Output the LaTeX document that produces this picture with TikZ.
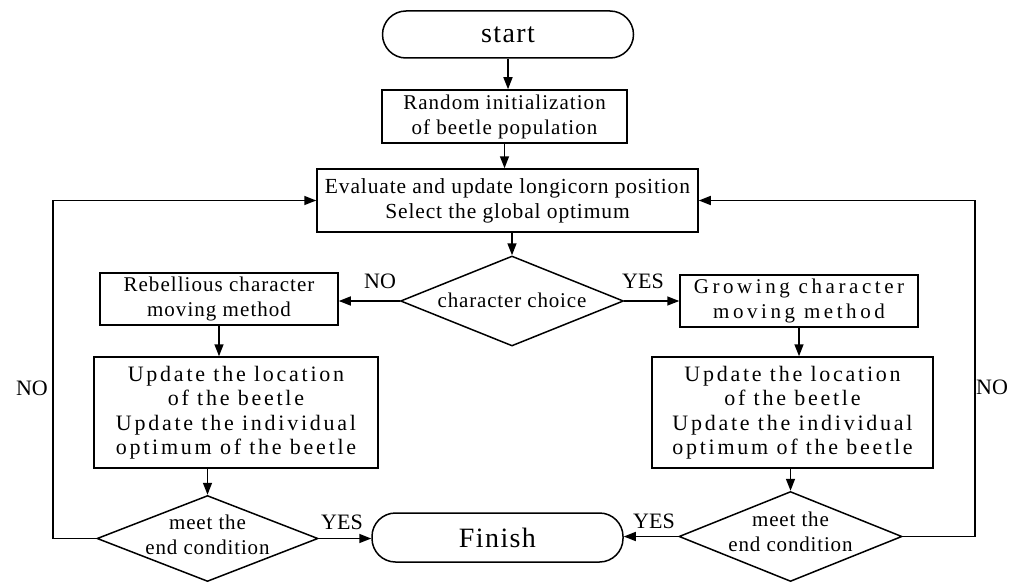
\documentclass[tikz,border=0pt]{standalone}
\usepackage{fontspec}
\setmainfont{Liberation Serif}
\newfontfamily\fN{Liberation Serif}
\newfontfamily\fA{Liberation Serif}[LetterSpace=5]
\newfontfamily\fE{Liberation Serif}[LetterSpace=4]
\newfontfamily\fG{Liberation Serif}[LetterSpace=17]
\newfontfamily\fU{Liberation Serif}[LetterSpace=12.5]
\usetikzlibrary{shapes.geometric,arrows.meta}
\begin{document}
\begin{tikzpicture}[x=1pt,y=-1pt,line width=1.5pt,
  >={Triangle[length=12pt,width=9pt]},
  box/.style={draw,rectangle,inner sep=0pt,align=center},
  term/.style={draw,rectangle,rounded corners=23.5pt,inner sep=0pt,
    font={\fA\fontsize{28}{30}\selectfont}},
  dia/.style={draw,diamond,inner sep=0pt},
  smalltxt/.style={font={\fA\fontsize{21}{25}\selectfont}},
  dtxt/.style={inner sep=0pt,align=center,font={\fE\fontsize{21}{25}\selectfont}},
  uptxt/.style={font={\fU\fontsize{22}{24.5}\selectfont}},
  lbl/.style={inner sep=0pt,font={\fN\fontsize{22}{24}\selectfont}}]
\useasboundingbox (0,0) rectangle (1019,583);

% nodes
\node[term,minimum width=251,minimum height=47] (start) at (508,34.5) {start};
\node[box,smalltxt,minimum width=245,minimum height=53] (init) at (504.5,116.5)
  {Random initialization\\of beetle population};
\node[box,minimum width=381,minimum height=63,font={\fE\fontsize{21.5}{25}\selectfont}] (eval) at (507.5,200.5)
  {Evaluate and update longicorn position\\Select the global optimum};
\node[dia,minimum width=223,minimum height=90] (cc) at (512,301) {};
\node[dtxt] (cct) at (512,300) {character choice};
\node[box,smalltxt,minimum width=238,minimum height=52] (reb) at (219,299)
  {Rebellious character\\moving method};
\node[box,minimum width=238,minimum height=52,font={\fG\fontsize{21}{25}\selectfont}] (grow) at (799,301)
  {Growing character\\moving method};
\node[box,uptxt,minimum width=284,minimum height=111] (upL) at (236,412.5)
  {Update the location\\of the beetle\\Update the individual\\optimum of the beetle};
\node[box,uptxt,minimum width=281,minimum height=111] (upR) at (792.5,412.5)
  {Update the location\\of the beetle\\Update the individual\\optimum of the beetle};
\node[dia,minimum width=221,minimum height=86] (dL) at (207.5,538.5) {};
\node[dtxt] (dLt) at (207.5,534.5) {meet the\\end condition};
\node[dia,minimum width=223,minimum height=90] (dR) at (790.5,536.5) {};
\node[dtxt] (dRt) at (790.5,531.5) {meet the\\end condition};
\node[term,minimum width=251,minimum height=49] (fin) at (497.5,537.5) {Finish};

% labels
\node[lbl] (noC) at (380,281) {NO};
\node[lbl] (yesC) at (643,281) {YES};
\node[lbl] (noL) at (32,388) {NO};
\node[lbl] (noR) at (992,387) {NO};
\node[lbl] (yesL) at (342,522) {YES};
\node[lbl] (yesR) at (654,521) {YES};

\coordinate (lft) at (53,0);
\coordinate (rgt) at (975,0);

% connectors
\draw[->] (start.south) -- (start.south |- init.north);
\draw[->] (init.south) -- (init.south |- eval.north);
\draw[->] (eval.south -| cc.north) -- (cc.north);
\draw[->] (cc.west) -- (cc.west -| reb.east);
\draw[->] (cc.east) -- (cc.east -| grow.west);
\draw[->] (reb.south) -- (reb.south |- upL.north);
\draw[->] (grow.south) -- (grow.south |- upR.north);
\draw[->] (dL.north |- upL.south) -- (dL.north);
\draw[->] (dR.north |- upR.south) -- (dR.north);
\draw[->] (dL.east) -- (dL.east -| fin.west);
\draw[->] (dR.west) -- (dR.west -| fin.east);
\draw[->] (dL.west) -- (dL.west -| lft) |- (eval.west);
\draw[->] (dR.east) -- (dR.east -| rgt) |- (eval.east);
\end{tikzpicture}
\end{document}
